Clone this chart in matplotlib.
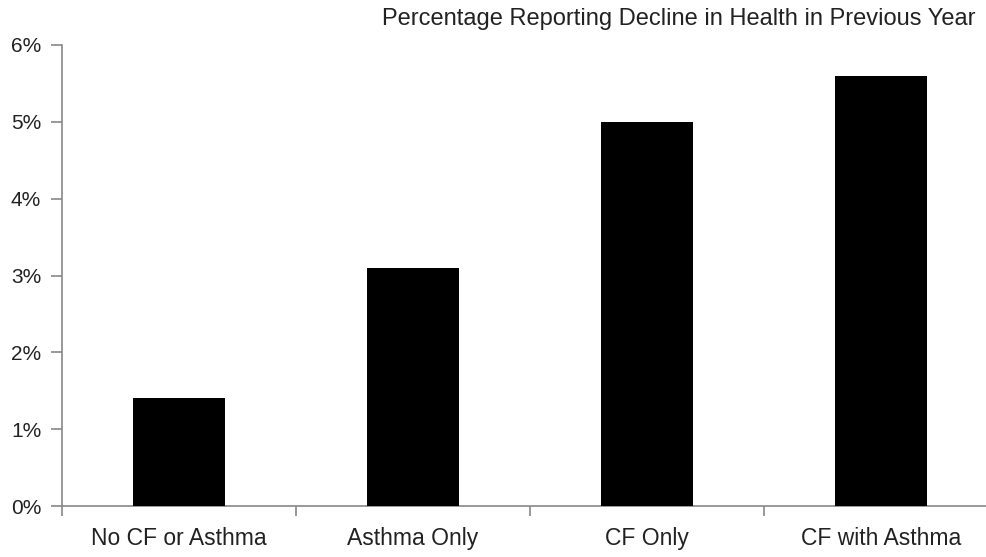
import matplotlib
matplotlib.use("Agg")
import matplotlib.pyplot as plt
from matplotlib.ticker import FuncFormatter, FixedLocator

categories = ["No CF or Asthma", "Asthma Only", "CF Only", "CF with Asthma"]
values = [1.4, 3.1, 5.0, 5.6]
yticks = [0, 1, 2, 3, 4, 5, 6]
title = "Percentage Reporting Decline in Health in Previous Year"

plt.rcParams['font.family'] = ['Liberation Sans', 'DejaVu Sans']

fig = plt.figure(figsize=(9.87, 5.57), dpi=100)
W, H = 987, 557
left, right, bottom, top = 62, 998, 506, 45
ax = fig.add_axes([left / W, 1 - bottom / H, (right - left) / W, (bottom - top) / H])

x = list(range(len(categories)))
ax.bar(x, values, width=0.39, color="black", zorder=3)

ax.set_xlim(-0.5, len(categories) - 0.5)
ax.set_ylim(0, 6)
ax.set_yticks(yticks)
ax.yaxis.set_major_formatter(FuncFormatter(lambda v, p: f"{int(v)}%"))
ax.set_xticks(x)
ax.set_xticklabels(categories)
ax.xaxis.set_minor_locator(FixedLocator([i + 0.5 for i in range(-1, len(categories))]))
ax.tick_params(axis="x", which="major", length=0, pad=15, labelsize=16.5, labelcolor="#222222")
ax.tick_params(axis="x", which="minor", length=7, color="#888888", width=1.2)
ax.tick_params(axis="y", length=8, color="#888888", width=1.2, labelsize=15, labelcolor="#222222", pad=7)

for s in ["top", "right"]:
    ax.spines[s].set_visible(False)
for s in ["left", "bottom"]:
    ax.spines[s].set_color("#888888")
    ax.spines[s].set_linewidth(1.2)

fig.text(976 / W, 1 - 19 / H, title, ha="right", va="center", fontsize=17, color="#222222")

fig.savefig("out.png", dpi=100)
